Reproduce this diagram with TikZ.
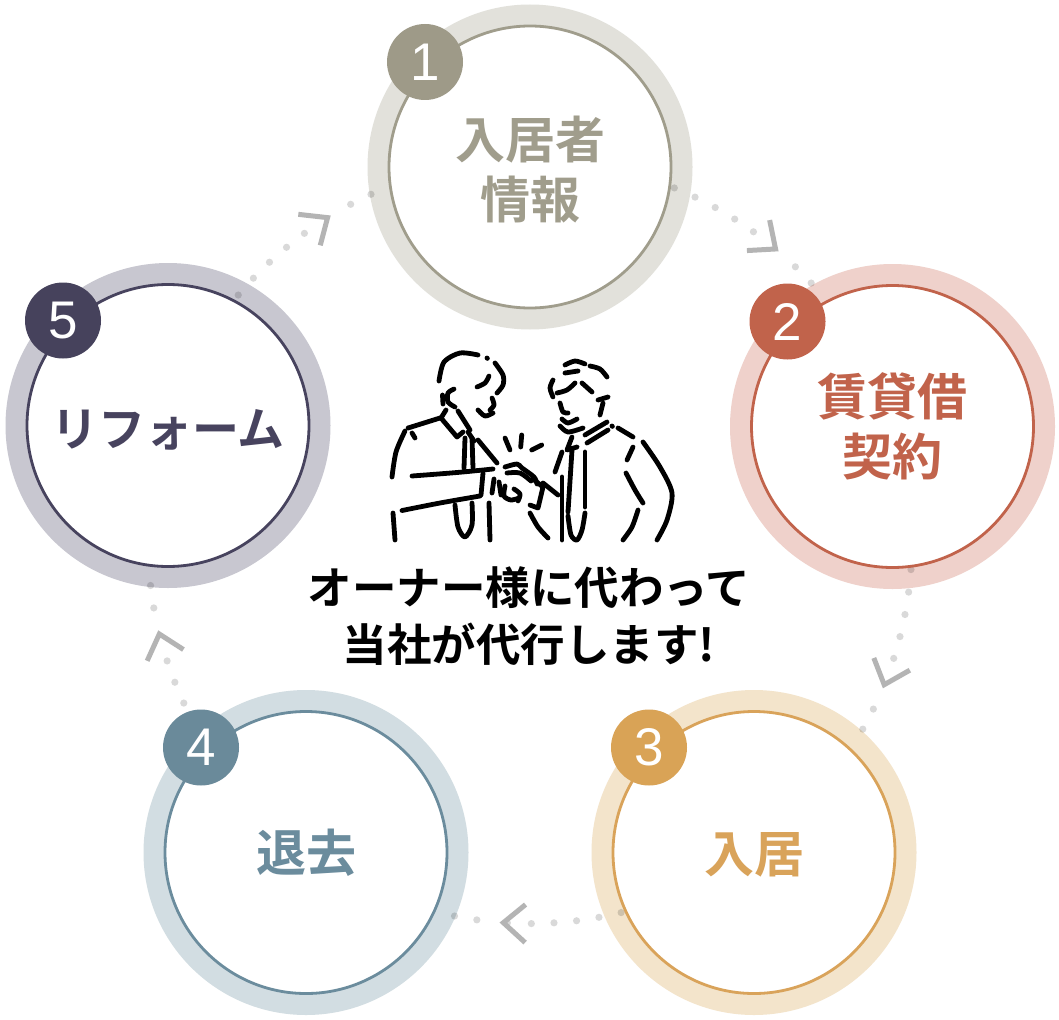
\documentclass[tikz,border=0pt]{standalone}
\usepackage{fontspec}
\newfontfamily\jp[BoldFont={Noto Sans CJK JP Bold}]{Noto Sans CJK JP}
\newfontfamily\numf{Liberation Sans}
\usetikzlibrary{calc}
\definecolor{ringA}{HTML}{E2E1DB}\definecolor{lineA}{HTML}{A09D8C}\definecolor{badgeA}{HTML}{9E9A88}
\definecolor{ringB}{HTML}{EFD1CB}\definecolor{lineB}{HTML}{C1634B}\definecolor{badgeB}{HTML}{C1634B}
\definecolor{ringC}{HTML}{F3E4CB}\definecolor{lineC}{HTML}{D9A35A}\definecolor{badgeC}{HTML}{D9A356}
\definecolor{ringD}{HTML}{D2DDE2}\definecolor{lineD}{HTML}{6B8C9D}\definecolor{badgeD}{HTML}{6A8A9A}
\definecolor{ringE}{HTML}{C8C7D0}\definecolor{lineE}{HTML}{47435E}\definecolor{badgeE}{HTML}{46425C}
\definecolor{chevc}{HTML}{B4B4B4}
\begin{document}
\begin{tikzpicture}[x=1pt,y=-1pt,
  ringdisc/.style={circle,inner sep=0pt,minimum size=325pt,fill=#1},
  innerdisc/.style={circle,inner sep=0pt,minimum size=282pt,fill=white,draw=#1,line width=2.8pt},
  badge/.style={circle,inner sep=0pt,minimum size=76pt,fill=#1,text=white,font=\numf\fontsize{53}{53}\selectfont},
  label/.style={text=#1,align=center,font=\jp\bfseries\fontsize{50}{60}\selectfont},
  dotc/.style={fill=black,fill opacity=0.15},
  chev/.style={draw=chevc,line width=5pt},
  ill/.style={line width=4.8pt,line cap=round,line join=round}]
\useasboundingbox (0,0) rectangle (1059,1019);
\fill[white] (0,0) rectangle (1059,1019);
\coordinate (O) at (530,541.6);
% rings
\node[ringdisc=ringA] (r1) at (530,167) {};
\node[ringdisc=ringB] (r2) at (892.5,426.5) {};
\node[ringdisc=ringC] (r3) at (754,852.5) {};
\node[ringdisc=ringD] (r4) at (306,852.5) {};
\node[ringdisc=ringE] (r5) at (168,425.5) {};
% dots
\foreach \mid in {-54,18,90,162,234}{
  \foreach \o in {-13.8,-10.4,-7,-3.6,-0.2,8,11.4}{
    \fill[dotc] ($(O)+({\mid+\o}:382)$) circle[radius=3.6];
  }
}
\fill[dotc] ($(O)+(93.4:382)$) circle[radius=3.6];
% inner discs
\node[innerdisc=lineA] (c1) at (r1) {};
\node[innerdisc=lineB] (c2) at (r2) {};
\node[innerdisc=lineC] (c3) at (r3) {};
\node[innerdisc=lineD] (c4) at (r4) {};
\node[innerdisc=lineE] (c5) at (r5) {};
% badges
\node[badge=badgeA] (b1) at ($(c1)+(-105,-105)$) {1};
\node[badge=badgeB] (b2) at ($(c2)+(-105,-105)$) {2};
\node[badge=badgeC] (b3) at ($(c3)+(-105,-105)$) {3};
\node[badge=badgeD] (b4) at ($(c4)+(-105,-105)$) {4};
\node[badge=badgeE] (b5) at ($(c5)+(-105,-105)$) {5};
% chevrons
\foreach \mid in {-54,18,90,162,234}{
  \draw[chev] ($(O)+({\mid+0.7}:401)$) -- ($(O)+({\mid+4}:382)$) -- ($(O)+({\mid+0.7}:363)$);
}
% labels
\node[label=lineA] (t1) at ($(c1)+(0,3)$) {入居者\\情報};
\node[label=lineB] (t2) at (c2) {賃貸借\\契約};
\node[label=lineC] (t3) at ($(c3)+(0,2)$) {入居};
\node[label=lineD] (t4) at (c4) {退去};
\node[label=lineE,font=\jp\bfseries\fontsize{47}{60}\selectfont] (t5) at ($(c5)+(0,4)$) {リフォーム};
\node[align=center,text=black,font=\jp\bfseries\fontsize{44.5}{57}\selectfont] (msg) at (529,616.5) {オーナー様に代わって\\当社が代行します!};
% illustration: left man
\draw[ill] plot[smooth] coordinates {(439,381) (444,362) (460,353) (478,355)};
\draw[ill] (487,358) -- (487.4,358.4);
\draw[ill] plot[smooth] coordinates {(495,363) (503,375) (503,385) (497,393)};
\draw[ill] plot[smooth] coordinates {(489,376) (485,383) (477,387)};
\draw[ill] plot[smooth] coordinates {(454,389) (448,393) (448,402) (455,407)};
\draw[ill] (442.5,395) -- (443,404);
\draw[ill] plot[smooth] coordinates {(492,398) (494,405) (490,410)};
\draw[ill] plot[smooth] coordinates {(478,410) (485,416) (493,413)};
\draw[ill] (446,410) -- (441,418) -- (457,437) -- (463,432);
\draw[ill] (458,411) -- (470,430);
\draw[ill] (468,432) -- (474,441);
\draw[ill] (408,428) -- (440,418);
\draw[ill] plot[smooth] coordinates {(405,431) (396,452) (392,477)};
\draw[ill] (412,433) -- (415,438);
\draw[ill] (465,438) -- (464,468);
\draw[ill] (472,438) -- (473,468);
\draw[ill] (478,440) -- (497,463);
\draw[ill] plot[smooth] coordinates {(412,476) (457,472.5) (493,469)};
\draw[ill] plot[smooth] coordinates {(402,510.5) (440,503) (480,496)};
\draw[ill] (483,473) -- (481,495);
\draw[ill] plot[smooth] coordinates {(455,505) (458,527) (465,537) (472,525) (472,503)};
\draw[ill] (489,503) -- (490,540);
\draw[ill] (393,513) -- (395,540);
% hands
\draw[ill] (494,479) -- (492,493);
\draw[ill] (499,482) -- (501,495);
\draw[ill] plot[smooth] coordinates {(505,486) (504,496) (511,500) (519,498)};
\draw[ill] plot[smooth] coordinates {(514,489) (520,494) (518,501)};
\draw[ill] plot[smooth] coordinates {(505,467) (517,464) (522,468) (534,477) (537,484)};
\draw[ill] plot[smooth] coordinates {(507,473) (520,473) (531,481)};
\draw[ill] (533,479) -- (543,487) -- (538,508) -- (530,505);
\draw[ill] (543,483) -- (558,495);
\draw[ill] plot[smooth] coordinates {(530,513) (538,527) (548,538)};
% sparks
\draw[ill] (505,438) -- (510,450);
\draw[ill] (521.7,435) -- (520.7,447);
\draw[ill] (531.7,450) -- (541.7,445);
% right man
\draw[ill] plot[smooth] coordinates {(565,365) (575,361) (585,364)};
\draw[ill] (565,373) -- (578,371);
\draw[ill] plot[smooth] coordinates {(590,366) (600,369) (607,377)};
\draw[ill] plot[smooth] coordinates {(553,380) (550,388) (553,397)};
\draw[ill] plot[smooth] coordinates {(557,393) (567,390) (575,383)};
\draw[ill] (582,383) -- (592,392);
\draw[ill] plot[smooth] coordinates {(560,403) (563,412) (568,413)};
\draw[ill] plot[smooth] coordinates {(562,419) (568,423) (577,419)};
\draw[ill] (598,400) -- (608,397);
\draw[ill] (603,403) -- (600,415);
\draw[ill] plot[smooth] coordinates {(560,426) (568,432) (583,428)};
\draw[ill] (585,435) -- (607,422);
\draw[ill] (587,443) -- (608,430);
\draw[ill] (572,437) -- (567,450) -- (577,447);
\draw[ill] (612,426) -- (612.4,426.4);
\draw[ill] (618,428) -- (633,437);
\draw[ill] plot[smooth] coordinates {(643,442) (660,467) (672,493) (667,520) (657,540)};
\draw[ill] (633,447) -- (627,460);
\draw[ill] plot[smooth] coordinates {(626,473) (635,490) (643,503)};
\draw[ill] plot[smooth] coordinates {(638,510) (632,527) (623,540)};
\draw[ill] (572,450) -- (568,512);
\draw[ill] (585,452) -- (585,507);
\draw[ill] plot[smooth] coordinates {(568,516) (571,535) (577,540) (582,530) (585,513)};
\draw[ill] (562,452) -- (555,472);
\draw[ill] (562,477) -- (562,540);
\end{tikzpicture}
\end{document}
